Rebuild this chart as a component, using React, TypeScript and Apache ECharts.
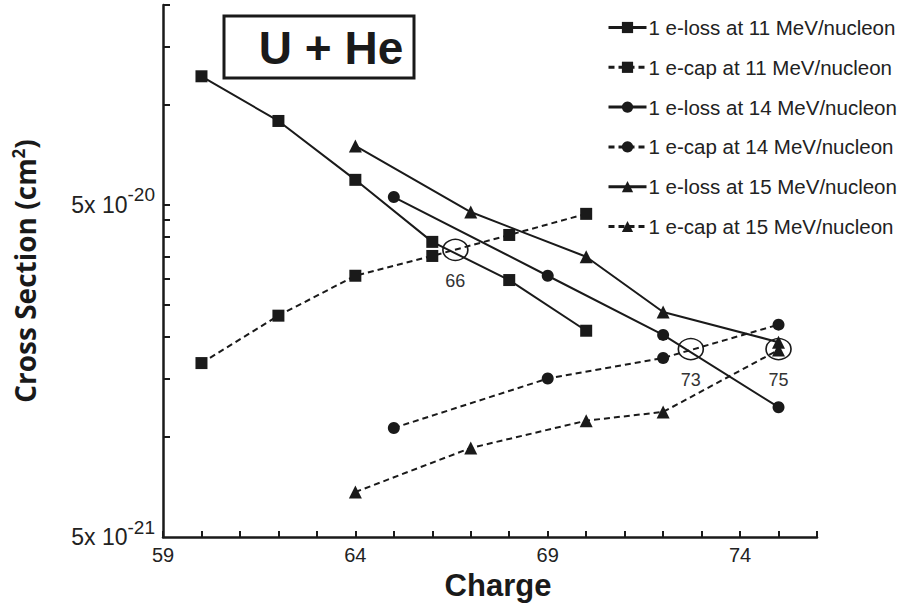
import React, { useEffect, useRef } from "react";
import * as echarts from "echarts";

// Charge values (x) for each series
const chargeLoss11 = [60, 62, 64, 66, 68, 70];
const chargeCap11 = [60, 62, 64, 66, 68, 70];
const chargeLoss14 = [65, 69, 72, 75];
const chargeCap14 = [65, 69, 72, 75];
const chargeLoss15 = [64, 67, 70, 72, 75];
const chargeCap15 = [64, 67, 70, 72, 75];

// Cross sections (cm^2)
const loss11 = [1.22e-19, 8.95e-20, 5.95e-20, 3.87e-20, 2.97e-20, 2.09e-20];
const cap11 = [1.67e-20, 2.32e-20, 3.06e-20, 3.51e-20, 4.06e-20, 4.7e-20];
const loss14 = [5.28e-20, 3.06e-20, 2.03e-20, 1.23e-20];
const cap14 = [1.065e-20, 1.5e-20, 1.73e-20, 2.18e-20];
const loss15 = [7.53e-20, 4.76e-20, 3.49e-20, 2.38e-20, 1.93e-20];
const cap15 = [6.83e-21, 9.27e-21, 1.12e-20, 1.19e-20, 1.83e-20];

const seriesNames = [
  "1 e-loss at 11 MeV/nucleon",
  "1 e-cap at 11 MeV/nucleon",
  "1 e-loss at 14 MeV/nucleon",
  "1 e-cap at 14 MeV/nucleon",
  "1 e-loss at 15 MeV/nucleon",
  "1 e-cap at 15 MeV/nucleon",
];

// Crossing points (charge, cross section, label)
const crossCharge = [66.6, 72.72, 75.0];
const crossValue = [3.66e-20, 1.84e-20, 1.84e-20];
const crossLabels = ["66", "73", "75"];

const xLabelValues = [59, 64, 69, 74];
const yLabelValues = [5e-21, 5e-20];
const yTickValues = [
  1e-20, 1.5e-20, 2e-20, 2.5e-20, 3e-20, 3.5e-20, 4e-20, 4.5e-20, 5e-20, 1e-19,
  1.5e-19, 2e-19,
];

const INK = "#1a1a1a";
const SANS = "Liberation Sans, Arial, sans-serif";

function pairs(xs: number[], ys: number[]) {
  return xs.map((x, i) => [x, ys[i]]);
}

export default function App() {
  const ref = useRef<HTMLDivElement>(null);
  useEffect(() => {
    if (!ref.current) return;
    const chart = echarts.init(ref.current, null, { renderer: "svg" });
    const mk = (
      name: string,
      xs: number[],
      ys: number[],
      symbol: string,
      size: number,
      dashed: boolean,
      extra: any = {}
    ) => ({
      type: "line",
      name,
      data: pairs(xs, ys),
      symbol,
      symbolSize: size,
      showSymbol: true,
      itemStyle: { color: INK },
      lineStyle: { color: INK, width: 2, type: dashed ? [6, 4] : "solid" },
      z: 3,
      ...extra,
    });
    const markData = crossCharge.map((c, i) => ({
      coord: [c, crossValue[i]],
      symbol: "circle",
      symbolSize: [25, 21],
      itemStyle: { color: "rgba(0,0,0,0)", borderColor: INK, borderWidth: 1.5 },
      label: {
        show: true,
        position: "bottom",
        distance: 11,
        formatter: crossLabels[i],
        color: "#333",
        fontSize: 18,
        fontFamily: SANS,
      },
    }));
    const option: any = {
      animation: false,
      backgroundColor: "#fff",
      grid: { left: 163, right: 87, top: 5, bottom: 72, containLabel: false },
      legend: {
        orient: "vertical",
        left: 602,
        top: 12,
        itemWidth: 38,
        itemHeight: 14,
        itemGap: 18.8,
        textStyle: {
          fontSize: 20.5,
          color: "#222",
          lineHeight: 20,
          padding: [0, 0, 0, -3],
          fontFamily: SANS,
        },
        lineStyle: { width: 3 },
        data: seriesNames,
      },
      xAxis: {
        type: "value",
        min: 59,
        max: 76,
        interval: 1,
        name: "Charge",
        nameLocation: "middle",
        nameGap: 33,
        nameTextStyle: {
          fontSize: 31,
          fontWeight: "bold",
          color: INK,
          fontFamily: SANS,
          padding: [0, 0, 0, 16],
        },
        axisLine: { lineStyle: { color: INK, width: 2.5 } },
        axisTick: { inside: true, length: 6, lineStyle: { color: INK, width: 2 } },
        axisLabel: {
          customValues: xLabelValues,
          margin: 8,
          fontSize: 20,
          color: "#222",
          fontFamily: SANS,
        },
        splitLine: { show: false },
      },
      yAxis: {
        type: "log",
        logBase: 10,
        min: 5e-21,
        max: 2e-19,
        name: "Cross Section (cm{s|2})",
        nameLocation: "middle",
        nameRotate: 90,
        nameGap: 123,
        nameTextStyle: {
          fontSize: 28,
          fontWeight: "bold",
          color: INK,
          fontFamily: "Open Sans, sans-serif",
          rich: {
            s: {
              fontSize: 17,
              fontWeight: "bold",
              color: INK,
              fontFamily: "Open Sans, sans-serif",
              padding: [0, 0, 13, 0],
            },
          },
        },
        axisLine: { show: true, lineStyle: { color: INK, width: 2.5 } },
        axisTick: {
          show: true,
          inside: true,
          length: 7,
          customValues: yTickValues,
          lineStyle: { color: INK, width: 2 },
        },
        axisLabel: {
          customValues: yLabelValues,
          margin: 8,
          formatter: (v: number) => {
            const e = Math.round(Math.log10(v / 5));
            return "{b|5x 10}{s|" + e + "}";
          },
          rich: {
            b: {
              fontSize: 23,
              color: "#222",
              fontFamily: SANS,
            },
            s: {
              fontSize: 19,
              color: "#222",
              fontFamily: SANS,
              padding: [0, 0, 20, 0],
            },
          },
        },
        splitLine: { show: false },
        minorTick: { show: false },
      },
      graphic: [
        {
          type: "rect",
          shape: { x: 224, y: 16, width: 190, height: 62 },
          style: { fill: "rgba(0,0,0,0)", stroke: INK, lineWidth: 3 },
          z: 10,
        },
        {
          type: "text",
          x: 331,
          y: 48,
          style: {
            text: "U + He",
            fontSize: 46,
            fontWeight: "bold",
            fontFamily: SANS,
            fill: INK,
            align: "center",
            verticalAlign: "middle",
          },
          z: 10,
        },
      ],
      series: [
        mk(seriesNames[0], chargeLoss11, loss11, "rect", 12, false, {
          markPoint: { data: markData, z: 5, silent: true },
        }),
        mk(seriesNames[1], chargeCap11, cap11, "rect", 12, true),
        mk(seriesNames[2], chargeLoss14, loss14, "circle", 12, false),
        mk(seriesNames[3], chargeCap14, cap14, "circle", 12, true),
        mk(seriesNames[4], chargeLoss15, loss15, "triangle", 13, false),
        mk(seriesNames[5], chargeCap15, cap15, "triangle", 13, true),
      ],
    };
    chart.setOption(option);
    return () => chart.dispose();
  }, []);
  return (
    <div
      ref={ref}
      style={{ position: "fixed", left: 0, top: 0, width: 904, height: 609, background: "#fff" }}
    />
  );
}
